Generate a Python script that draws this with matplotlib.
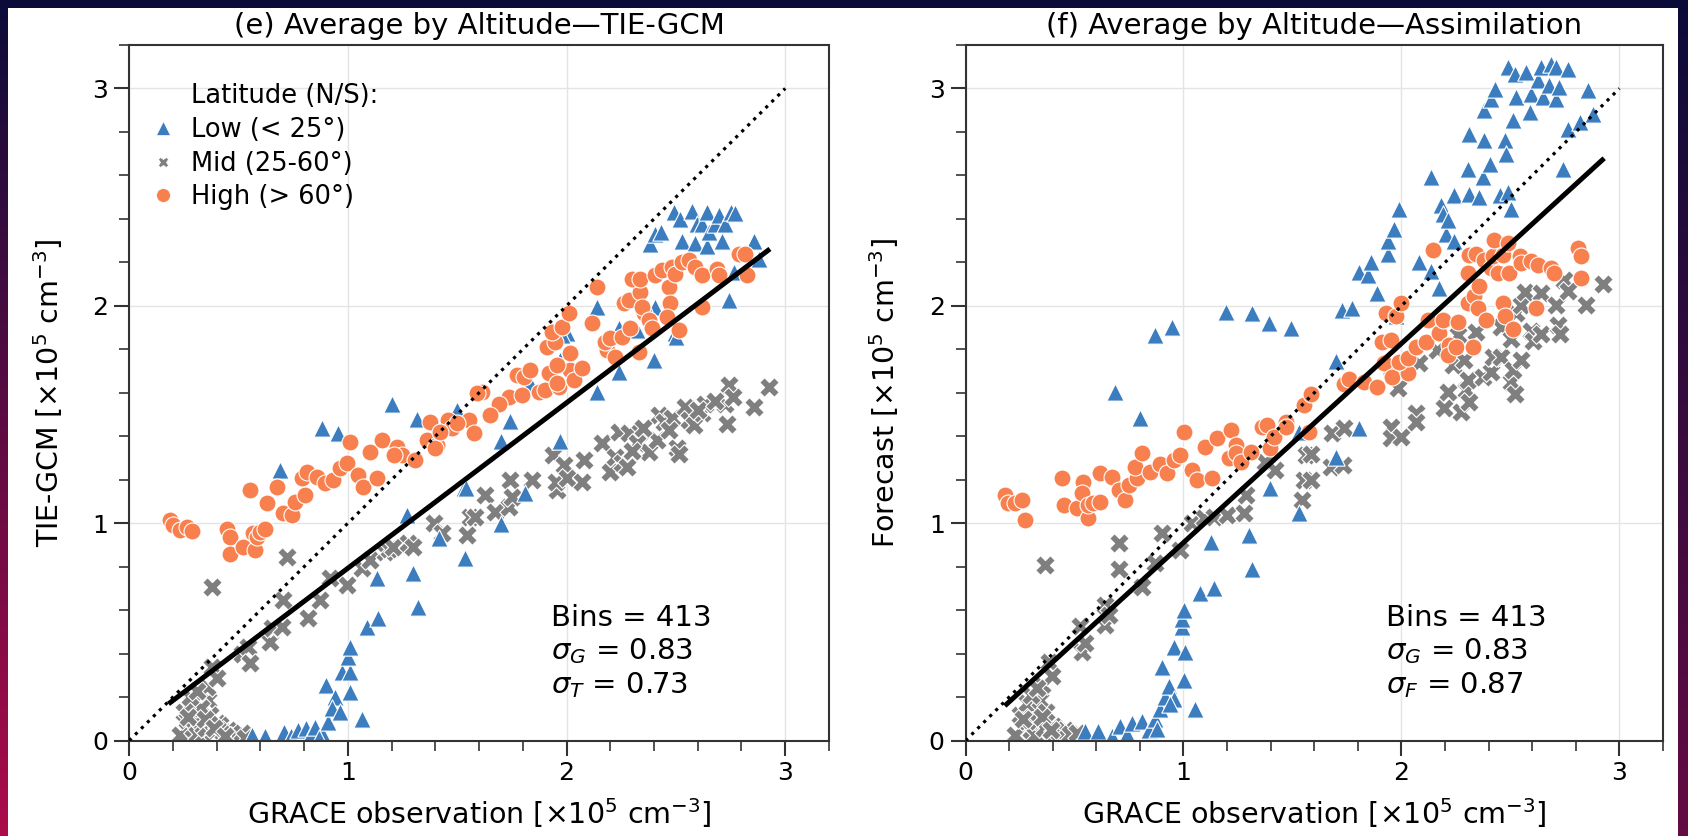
import numpy as np
import matplotlib
matplotlib.use("Agg")
import matplotlib.pyplot as plt
from matplotlib.lines import Line2D
from matplotlib.patches import Rectangle
from matplotlib.ticker import MultipleLocator

# ---- data (x = GRACE, y = model), units 1e5 cm^-3 ----
tie_low = [(0.56, 0.026), (0.62, 0.02), (0.71, 0.04), (0.74, 0.02), (0.77, 0.05), (0.81, 0.056),
           (0.83, 0.03), (0.85, 0.064), (0.88, 0.033), (0.87, 0.01), (0.91, 0.087), (0.90, 0.256),
           (0.94, 0.202), (0.927, 0.148), (0.965, 0.133), (0.972, 0.317), (1.01, 0.317), (1.003, 0.386),
           (1.01, 0.432), (1.01, 0.225), (1.064, 0.10), (1.087, 0.524), (1.14, 0.562), (1.132, 0.746),
           (1.30, 0.769), (1.323, 0.616), (1.27, 1.037), (1.415, 0.93), (1.537, 0.838), (1.529, 1.16),
           (1.50, 1.52), (1.315, 1.48), (1.201, 1.55), (0.881, 1.436), (0.957, 1.413), (0.69, 1.244),
           (1.70, 0.996), (1.81, 1.14), (1.97, 1.38), (1.70, 1.38), (1.74, 1.47), (1.54, 1.16),
           (1.834, 1.643), (1.972, 1.75), (2.002, 1.873), (2.14, 1.995), (2.14, 1.604), (2.238, 1.896),
           (2.238, 1.697), (2.32, 1.89), (2.406, 1.995), (2.398, 1.75), (2.498, 1.873), (1.98, 1.865),
           (2.50, 1.857), (2.383, 2.286), (2.406, 2.332), (2.43, 2.34), (2.49, 2.432), (2.52, 2.40),
           (2.528, 2.30), (2.574, 2.435), (2.589, 2.29), (2.597, 2.378), (2.62, 2.378), (2.643, 2.43),
           (2.643, 2.275), (2.65, 2.34), (2.68, 2.378), (2.696, 2.42), (2.71, 2.30), (2.726, 2.378),
           (2.75, 2.43), (2.772, 2.425), (2.765, 2.156), (2.742, 2.026), (2.856, 2.30), (2.879, 2.217)]

tie_mid = [(0.232, 0.026), (0.25, 0.133), (0.263, 0.095), (0.286, 0.171), (0.29, 0.06), (0.31, 0.03),
           (0.324, 0.095), (0.339, 0.026), (0.35, 0.06), (0.362, 0.186), (0.354, 0.248), (0.377, 0.339),
           (0.385, 0.041), (0.40, 0.286), (0.40, 0.08), (0.415, 0.071), (0.43, 0.04), (0.454, 0.049),
           (0.47, 0.03), (0.49, 0.02), (0.514, 0.033), (0.53, 0.01), (0.37, 0.12), (0.33, 0.15),
           (0.28, 0.2), (0.31, 0.23), (0.27, 0.11), (0.345, 0.10), (0.39, 0.06), (0.44, 0.02),
           (0.377, 0.708), (0.514, 0.40), (0.545, 0.432), (0.553, 0.355),
           (0.644, 0.455), (0.652, 0.516), (0.698, 0.524), (0.705, 0.646), (0.72, 0.846), (0.82, 0.562),
           (0.873, 0.646), (0.919, 0.746), (0.995, 0.715), (1.064, 0.792), (1.102, 0.83), (1.171, 0.869),
           (1.19, 0.88), (1.208, 0.892), (1.277, 0.907), (1.30, 0.892), (1.392, 0.999), (1.43, 0.953),
           (1.544, 0.945), (1.56, 1.03), (1.583, 1.03), (1.628, 1.13), (1.674, 1.05), (1.735, 1.075),
           (1.743, 1.198), (1.75, 1.12), (1.842, 1.198), (1.94, 1.313), (1.956, 1.152), (1.987, 1.266),
           (1.95, 1.19), (2.0, 1.206), (2.07, 1.19), (2.078, 1.29), (2.16, 1.367), (2.2, 1.236),
           (2.22, 1.305), (2.254, 1.275), (2.277, 1.26), (2.238, 1.42), (2.284, 1.413), (2.337, 1.42),
           (2.322, 1.367), (2.376, 1.328), (2.414, 1.382), (2.422, 1.497), (2.444, 1.466), (2.483, 1.482),
           (2.506, 1.344), (2.513, 1.32), (2.543, 1.535), (2.558, 1.474), (2.581, 1.45), (2.62, 1.505),
           (2.635, 1.55), (2.726, 1.55), (2.734, 1.458), (2.742, 1.635), (2.856, 1.535), (2.925, 1.627),
           (2.30, 1.33), (2.35, 1.44), (2.47, 1.43), (2.60, 1.52), (2.68, 1.56), (2.76, 1.58)]

tie_high = [(0.187, 1.014), (0.202, 0.991), (0.232, 0.968), (0.263, 0.983), (0.286, 0.965),
            (0.446, 0.975), (0.461, 0.937), (0.461, 0.86), (0.522, 0.891), (0.575, 0.876), (0.568, 0.953),
            (0.583, 0.937), (0.598, 0.96), (0.622, 0.975), (0.553, 1.152), (0.629, 1.091), (0.675, 1.168),
            (0.705, 1.045), (0.743, 1.037), (0.759, 1.098), (0.805, 1.129), (0.789, 1.206), (0.812, 1.236),
            (0.858, 1.213), (0.896, 1.183), (0.934, 1.198), (0.965, 1.252), (0.995, 1.275), (1.01, 1.375),
            (1.048, 1.22), (1.071, 1.168), (1.132, 1.206), (1.102, 1.328), (1.155, 1.382), (1.224, 1.351),
            (1.247, 1.313), (1.21, 1.313), (1.308, 1.29), (1.376, 1.466), (1.361, 1.382), (1.407, 1.359),
            (1.399, 1.344), (1.460, 1.474), (1.476, 1.436), (1.552, 1.474), (1.575, 1.413), (1.42, 1.42),
            (1.50, 1.46), (1.613, 1.604), (1.735, 1.58), (1.796, 1.588), (1.873, 1.604), (1.903, 1.612),
            (1.964, 1.627), (1.774, 1.681), (1.804, 1.673), (1.834, 1.704), (1.918, 1.689), (1.956, 1.643),
            (2.017, 1.704), (2.032, 1.658), (2.07, 1.712), (1.956, 1.727), (1.91, 1.811), (1.948, 1.834),
            (1.933, 1.881), (1.979, 1.904), (2.009, 1.965), (2.017, 1.781), (2.116, 1.919), (2.14, 2.087),
            (2.185, 1.796), (2.177, 1.834), (2.2, 1.85), (2.223, 1.765), (2.254, 1.858), (2.292, 1.896),
            (2.261, 2.011), (2.284, 2.026), (2.338, 2.064), (2.353, 1.965), (2.345, 1.995), (2.376, 1.934),
            (2.391, 1.896), (2.3, 2.125), (2.338, 2.125), (2.406, 2.14), (2.437, 2.163), (2.483, 2.179),
            (2.467, 2.087), (2.475, 2.011), (2.46, 1.95), (2.513, 1.889), (2.498, 2.148), (2.528, 2.201),
            (2.559, 2.209), (2.589, 2.179), (2.62, 2.14), (2.689, 2.171), (2.696, 2.14), (2.62, 1.995),
            (2.787, 2.24), (2.818, 2.24), (2.826, 2.14), (2.33, 1.789), (1.59, 1.6), (1.69, 1.55), (1.65, 1.5)]

fc_low = [(0.55, 0.045), (0.61, 0.045), (0.67, 0.02), (0.71, 0.068), (0.74, 0.03), (0.763, 0.083),
          (0.809, 0.091), (0.84, 0.05), (0.871, 0.1), (0.878, 0.054), (0.894, 0.147), (0.917, 0.2),
          (0.932, 0.25), (0.955, 0.19), (0.94, 0.17), (0.901, 0.34), (1.001, 0.28), (0.955, 0.43),
          (1.009, 0.407), (0.993, 0.521), (0.993, 0.56), (1.001, 0.6), (1.055, 0.147), (1.077, 0.677),
          (1.139, 0.7), (1.124, 0.915), (1.30, 0.944), (1.315, 0.79), (1.399, 1.16), (1.53, 1.045),
          (1.53, 1.42), (0.802, 1.482), (0.687, 1.604), (0.871, 1.865), (0.948, 1.903), (1.193, 1.972),
          (1.315, 1.965), (1.392, 1.919), (1.491, 1.896), (1.698, 1.305), (1.806, 1.436),
          (1.698, 1.745), (1.729, 1.98), (1.775, 1.991), (1.806, 2.155), (1.845, 2.14), (1.859, 2.2),
          (1.89, 2.06), (1.936, 2.239), (1.936, 2.3), (1.966, 2.354), (1.974, 1.953), (1.989, 2.446),
          (2.082, 2.2), (2.135, 2.162), (2.135, 2.592), (2.174, 2.083), (2.182, 2.462), (2.189, 2.424),
          (2.204, 2.331), (2.212, 2.393), (2.243, 2.3), (2.243, 2.508), (2.311, 2.516), (2.304, 2.631),
          (2.312, 2.792), (2.358, 2.5), (2.373, 2.592), (2.38, 2.762), (2.404, 2.654), (2.38, 2.9),
          (2.411, 2.953), (2.427, 2.999), (2.45, 2.508), (2.473, 2.762), (2.481, 2.7), (2.488, 2.523),
          (2.503, 2.446), (2.511, 2.853), (2.526, 2.961), (2.488, 3.098), (2.519, 3.068), (2.573, 3.076),
          (2.588, 2.892), (2.595, 2.976), (2.626, 3.037), (2.641, 3.098), (2.649, 2.961), (2.679, 3.014),
          (2.687, 3.114), (2.71, 3.098), (2.71, 2.953), (2.725, 3.006), (2.763, 3.091), (2.74, 2.631),
          (2.763, 2.815), (2.817, 2.846), (2.856, 2.991), (2.879, 2.884)]

fc_mid = [(0.227, 0.028), (0.25, 0.119), (0.281, 0.173), (0.281, 0.089), (0.30, 0.05), (0.319, 0.028),
          (0.327, 0.089), (0.342, 0.188), (0.35, 0.257), (0.36, 0.06), (0.381, 0.361), (0.396, 0.295),
          (0.403, 0.065), (0.41, 0.028), (0.43, 0.04), (0.457, 0.051), (0.48, 0.03), (0.51, 0.036),
          (0.37, 0.13), (0.30, 0.21), (0.33, 0.24), (0.265, 0.10), (0.35, 0.11), (0.39, 0.05),
          (0.365, 0.807), (0.526, 0.527), (0.534, 0.406),
          (0.55, 0.45), (0.641, 0.626), (0.641, 0.534), (0.66, 0.58), (0.702, 0.907), (0.702, 0.79),
          (0.809, 0.706), (0.871, 0.815), (0.901, 0.953), (0.986, 0.876), (1.04, 0.999), (1.093, 1.022),
          (1.139, 1.03), (1.2, 1.037), (1.277, 1.045), (1.285, 1.13), (1.376, 1.283), (1.422, 1.244),
          (1.545, 1.106), (1.553, 1.198), (1.56, 1.313), (1.583, 1.32), (1.583, 1.198), (1.675, 1.259),
          (1.73, 1.267), (1.68, 1.413), (1.737, 1.436), (1.951, 1.443), (1.951, 1.39), (1.997, 1.397),
          (1.982, 1.62), (2.066, 1.505), (2.066, 1.466), (2.082, 1.735), (2.165, 1.795), (2.197, 1.528),
          (2.212, 1.604), (2.235, 1.727), (2.258, 1.865), (2.273, 1.513), (2.289, 1.749), (2.296, 1.612),
          (2.304, 1.658), (2.311, 1.559), (2.342, 1.88), (2.373, 1.673), (2.411, 1.696), (2.419, 1.765),
          (2.457, 1.765), (2.457, 1.903), (2.503, 1.846), (2.503, 1.65), (2.511, 1.704), (2.519, 1.596),
          (2.526, 1.965), (2.549, 2.003), (2.549, 1.749), (2.565, 2.064), (2.595, 1.885), (2.603, 1.84),
          (2.641, 1.872), (2.641, 2.057), (2.71, 2.003), (2.718, 1.91), (2.726, 1.872), (2.748, 2.118),
          (2.764, 2.07), (2.848, 2.003), (2.925, 2.1)]

fc_high = [(0.181, 1.129), (0.196, 1.091), (0.227, 1.091), (0.258, 1.106), (0.273, 1.014),
           (0.442, 1.206), (0.45, 1.083), (0.51, 1.068), (0.541, 1.19), (0.533, 1.137), (0.564, 1.022),
           (0.564, 1.083), (0.587, 1.091), (0.618, 1.099), (0.618, 1.229), (0.672, 1.213), (0.702, 1.152),
           (0.733, 1.106), (0.748, 1.175), (0.786, 1.206), (0.779, 1.259), (0.809, 1.321), (0.848, 1.236),
           (0.894, 1.274), (0.925, 1.229), (0.955, 1.29), (0.986, 1.313), (1.001, 1.42), (1.04, 1.244),
           (1.062, 1.198), (1.10, 1.351), (1.131, 1.206), (1.154, 1.39), (1.216, 1.428), (1.208, 1.298),
           (1.239, 1.359), (1.239, 1.321), (1.262, 1.282), (1.308, 1.328), (1.361, 1.443), (1.384, 1.451),
           (1.399, 1.344), (1.415, 1.397), (1.468, 1.466), (1.468, 1.443), (1.553, 1.543), (1.576, 1.42),
           (1.583, 1.596), (1.737, 1.642), (1.76, 1.665), (1.828, 1.65), (1.89, 1.627), (1.951, 1.689),
           (1.92, 1.735), (1.958, 1.673), (2.028, 1.689), (1.99, 1.742), (2.028, 1.758), (1.913, 1.834),
           (1.951, 1.842), (1.929, 1.968), (1.975, 1.953), (1.998, 2.014), (2.066, 1.811), (2.112, 1.834),
           (2.12, 1.934), (2.143, 2.256), (2.174, 1.873), (2.189, 1.934), (2.22, 1.819), (2.212, 1.773),
           (2.25, 1.811), (2.258, 1.926), (2.327, 1.811), (2.304, 2.014), (2.334, 2.043), (2.35, 1.99),
           (2.388, 1.934), (2.304, 2.151), (2.311, 2.233), (2.342, 2.24), (2.38, 2.21), (2.357, 2.089),
           (2.411, 2.174), (2.419, 2.228), (2.426, 2.305), (2.442, 2.151), (2.465, 2.233), (2.488, 2.289),
           (2.495, 2.151), (2.542, 2.228), (2.549, 2.197), (2.465, 2.014), (2.473, 1.953), (2.511, 1.892),
           (2.595, 2.205), (2.626, 2.189), (2.618, 1.99), (2.687, 2.174), (2.702, 2.151), (2.809, 2.267),
           (2.825, 2.228), (2.825, 2.128)]

# regression lines (slope, intercept) and x extent
tie_fit = (0.761, 0.032)
fc_fit = (0.916, -0.005)
fit_x = [0.18, 2.93]

labels = ["Low (< 25°)", "Mid (25-60°)", "High (> 60°)"]
colors = ["#3b7dbf", "#7f7f7f", "#f7804e"]
markers = ["^", "X", "o"]
sizes = [155, 200, 150]

fig = plt.figure(figsize=(16.88, 8.36), dpi=100)

# dark frame behind the white page
bg = fig.add_axes([0, 0, 1, 1], zorder=-10)
bg.axis("off")
ty = np.linspace(0, 1, 200)[:, None]
tx = np.linspace(0, 1, 400)[None, :]
t = ty * (1 - 0.45 * tx)
navy = np.array([11, 11, 58]) / 255
crimson = np.array([172, 12, 74]) / 255
bg.imshow(navy + t[..., None] * (crimson - navy), aspect="auto", extent=[0, 1, 0, 1])
bg.add_patch(Rectangle((8 / 1688, 0), 1670 / 1688, 828 / 836, transform=bg.transAxes,
                       facecolor="white", edgecolor="none"))
bg.set_xlim(0, 1)
bg.set_ylim(0, 1)

ax1 = fig.add_axes([0.0765, 0.1141, 0.4146, 0.8321])
ax2 = fig.add_axes([0.5720, 0.1141, 0.4132, 0.8321])


def panel(ax, low, mid, high, fit, title, ylabel, stats):
    ax.grid(True, color="#e4e4e4", lw=1.0)
    ax.set_axisbelow(True)
    for grp, i in ((mid, 1), (low, 0), (high, 2)):
        x, y = np.array(grp).T
        ax.scatter(x, y, s=sizes[i], marker=markers[i], c=colors[i], edgecolors="white",
                   linewidths=0.8, zorder=2)
    ax.plot([0, 3], [0, 3], ls=":", color="black", lw=2.3, zorder=4)
    xs = np.array(fit_x)
    ax.plot(xs, fit[0] * xs + fit[1], color="black", lw=3.6, solid_capstyle="butt", zorder=5)

    ax.set_xlim(0, 3.2)
    ax.set_ylim(0, 3.2)
    ax.set_xticks([0, 1, 2, 3])
    ax.set_yticks([0, 1, 2, 3])
    ax.xaxis.set_minor_locator(MultipleLocator(0.2))
    ax.yaxis.set_minor_locator(MultipleLocator(0.2))
    ax.tick_params(which="major", length=11, width=1.5, labelsize=18, color="#333333", pad=4)
    ax.tick_params(which="minor", length=7, width=1.2, color="#333333")
    for sp in ax.spines.values():
        sp.set_linewidth(1.5)
        sp.set_color("#333333")

    ax.set_title(title, fontsize=21, pad=8)
    ax.set_xlabel("GRACE observation [×10$^5$ cm$^{-3}$]", fontsize=20.5, labelpad=8)
    ax.set_ylabel(ylabel + " [×10$^5$ cm$^{-3}$]", fontsize=20.5, labelpad=20)
    ax.text(1.93, 0.63, stats, fontsize=21, va="top", ha="left", linespacing=1.2)


panel(ax1, tie_low, tie_mid, tie_high, tie_fit, "(e) Average by Altitude—TIE-GCM", "TIE-GCM",
      "Bins = 413\n$\\sigma_G$ = 0.83\n$\\sigma_T$ = 0.73")
panel(ax2, fc_low, fc_mid, fc_high, fc_fit, "(f) Average by Altitude—Assimilation", "Forecast",
      "Bins = 413\n$\\sigma_G$ = 0.83\n$\\sigma_F$ = 0.87")

# seaborn-style legend: title as first entry with an invisible handle
handles = [Line2D([], [], ls="none", marker="", label="Latitude (N/S):")]
leg_ms = [9.5, 7.5, 10]
for i in range(3):
    handles.append(Line2D([], [], ls="none", marker=markers[i], color=colors[i], markersize=leg_ms[i],
                          markeredgecolor="white", markeredgewidth=0.5, label=labels[i]))
ax1.legend(handles=handles, loc="upper left", bbox_to_anchor=(0.03, 0.945), frameon=False,
           fontsize=18.5, borderpad=0, borderaxespad=0, handlelength=1.0, handletextpad=0.6,
           labelspacing=0.30)

fig.savefig("out.png", dpi=100)
